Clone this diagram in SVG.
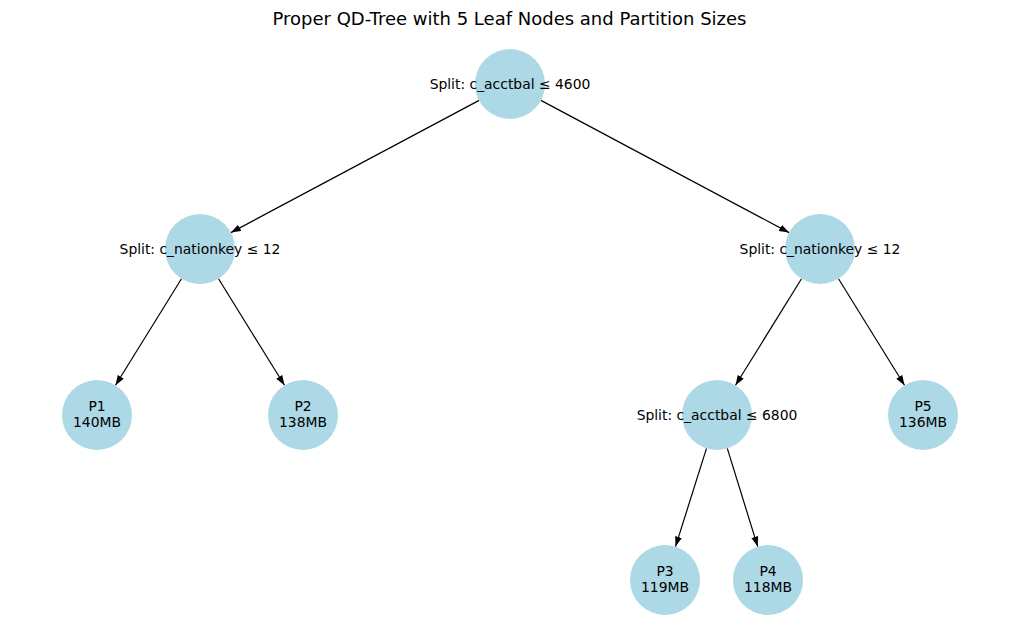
<svg xmlns="http://www.w3.org/2000/svg" width="1019" height="642" viewBox="0 0 1019 642">
<defs>
<style>
.node{fill:#ADD8E6;}
.lbl{font-family:"DejaVu Sans",sans-serif;font-size:13.9px;fill:#000;text-anchor:middle;}
.title{font-family:"DejaVu Sans",sans-serif;font-size:18px;fill:#000;text-anchor:middle;}
.edge{stroke:#000;stroke-width:1.2;fill:none;marker-end:url(#arr);}
</style>
<marker id="arr" markerUnits="userSpaceOnUse" markerWidth="11" markerHeight="8" refX="10" refY="3.5" orient="auto">
<path d="M0,0 L10,3.5 L0,7 z" fill="#000"/>
</marker>
</defs>
<rect width="1019" height="642" fill="#fff"/>
<text class="title" x="509.5" y="25">Proper QD-Tree with 5 Leaf Nodes and Partition Sizes</text>
<g id="connectors">
<line class="edge" x1="479.1" y1="100.4" x2="230.9" y2="232.6"/>
<line class="edge" x1="540.9" y1="100.4" x2="789.1" y2="232.6"/>
<line class="edge" x1="181.5" y1="278.7" x2="115.5" y2="385.3"/>
<line class="edge" x1="218.5" y1="278.7" x2="284.5" y2="385.3"/>
<line class="edge" x1="801.5" y1="278.7" x2="735.5" y2="385.3"/>
<line class="edge" x1="838.5" y1="278.7" x2="904.5" y2="385.3"/>
<line class="edge" x1="706.5" y1="448.4" x2="675.5" y2="546.6"/>
<line class="edge" x1="727.3" y1="448.4" x2="757.7" y2="546.6"/>
</g>
<g id="root"><circle class="node" cx="510" cy="84" r="35"/><text class="lbl" x="510" y="88.7">Split: c_acctbal ≤ 4600</text></g>
<g id="left"><circle class="node" cx="200" cy="249" r="35"/><text class="lbl" x="200" y="253.7">Split: c_nationkey ≤ 12</text></g>
<g id="right"><circle class="node" cx="820" cy="249" r="35"/><text class="lbl" x="820" y="253.7">Split: c_nationkey ≤ 12</text></g>
<g id="p1"><circle class="node" cx="97" cy="415" r="35"/><text class="lbl" x="97" y="411">P1</text><text class="lbl" x="97" y="426.5">140MB</text></g>
<g id="p2"><circle class="node" cx="303" cy="415" r="35"/><text class="lbl" x="303" y="411">P2</text><text class="lbl" x="303" y="426.5">138MB</text></g>
<g id="rl"><circle class="node" cx="717" cy="415" r="35"/><text class="lbl" x="717" y="419.7">Split: c_acctbal ≤ 6800</text></g>
<g id="p5"><circle class="node" cx="923" cy="415" r="35"/><text class="lbl" x="923" y="411">P5</text><text class="lbl" x="923" y="426.5">136MB</text></g>
<g id="p3"><circle class="node" cx="665" cy="580" r="35"/><text class="lbl" x="665" y="576">P3</text><text class="lbl" x="665" y="591.5">119MB</text></g>
<g id="p4"><circle class="node" cx="768" cy="580" r="35"/><text class="lbl" x="768" y="576">P4</text><text class="lbl" x="768" y="591.5">118MB</text></g>
</svg>
